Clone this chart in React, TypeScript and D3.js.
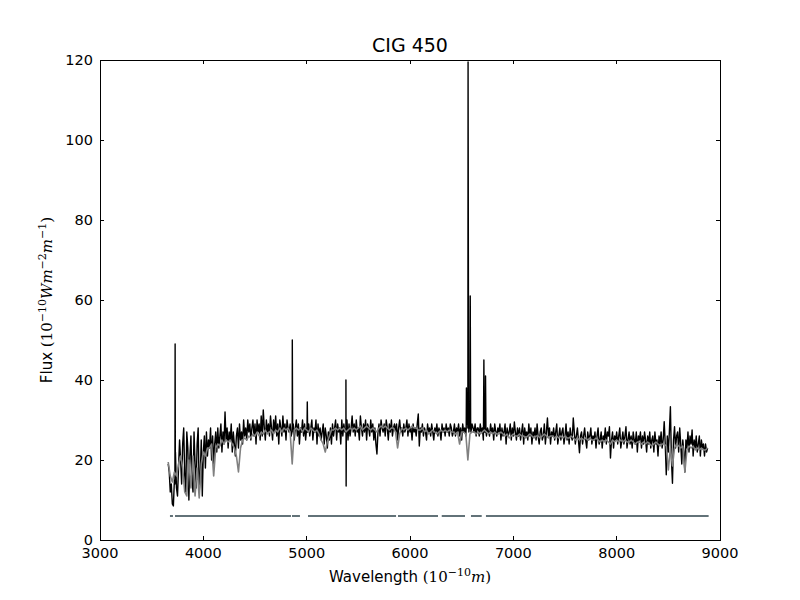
import * as React from 'react'
import * as d3 from 'd3'

const width = 800
const height = 600
const margin = { top: 60, right: 80, bottom: 60, left: 100 }

const xTicks = [3000, 4000, 5000, 6000, 7000, 8000, 9000]
const yTicks = [0, 20, 40, 60, 80, 100, 120]

// observed spectrum, one value every 10 A from 3660 A
const observedStart = 3660
const observedStep = 10
const observedFlux = [
  19, 17, 12, 14, 9, 8.5, 15, 22, 13, 11, 18, 25, 20, 14, 24, 28, 16, 12, 27, 23,
  10, 21, 26, 15, 12, 27, 19, 13, 24, 28, 12, 16, 25, 11, 22, 26, 18, 27, 21, 25,
  23, 28, 20, 26, 19, 24, 27, 22, 28, 23, 26, 29, 22, 27, 24, 32, 25, 28, 23, 27,
  25, 29, 22, 27, 24, 21, 26, 28, 23, 29, 25, 27, 24, 30, 26, 28, 25, 30, 27, 29,
  25, 28, 30, 26, 29, 24, 30, 27, 29, 25, 31, 26, 32.5, 28, 25, 30, 27, 29, 26, 31,
  28, 25, 30, 27, 31, 26, 29, 24, 30, 28, 26, 31, 27, 29, 25, 30, 28, 27, 29, 26,
  27, 29, 25, 28, 30, 26, 29, 24, 28, 27, 30, 26, 29, 25, 28, 27, 29, 26, 28, 30,
  25, 28, 27, 30, 24, 29, 26, 28, 25, 27, 29, 24, 28, 26, 23, 27, 25, 28, 24, 29,
  26, 28, 30, 25, 29, 27, 28, 24, 30, 26, 29, 27, 28, 30, 25, 29, 26, 28, 31, 27,
  29, 26, 30, 27, 28, 25, 31, 28, 26, 29, 27, 30, 25, 29, 28, 26, 30, 27, 29, 25,
  28, 24, 21.5, 27, 29, 26, 30, 28, 27, 29, 26, 30, 28, 25, 29, 27, 30, 26, 28, 29,
  27, 29, 25, 28, 30, 27, 28, 26, 29, 27, 28, 30, 26, 29, 27, 28, 25, 29, 27, 28,
  26, 29, 31.5, 23.5, 28, 27, 29, 26, 28, 27, 25, 29, 27, 28, 26, 29, 27, 25, 28, 27,
  29, 26, 28, 27, 25, 29, 27, 28, 26, 29, 27, 28, 26, 29, 28, 26, 27, 29, 26, 28,
  27, 29, 26, 28, 25, 29, 27, 28, 26, 29, 28, 27, 28, 27, 29, 28, 27, 29, 26, 28,
  28, 26, 29, 27, 28, 25, 27, 29, 26, 28, 27, 26, 29, 27, 28, 25, 29, 27, 26, 28,
  27, 29, 25, 28, 26, 27, 29, 24, 28, 26, 27, 29, 25, 28, 26, 29.5, 27, 25, 28, 26,
  28, 25, 27, 29, 24, 28, 26, 27, 25, 29, 26, 28, 24, 27, 26, 28, 25, 29, 26, 24,
  27, 28, 25, 26, 29, 24, 27, 30.5, 26, 28, 24, 27, 26, 28, 25, 27, 29, 24, 26, 28,
  25, 27, 28, 24, 26, 29, 25, 27, 24, 28, 26, 25, 30.5, 27, 24, 26, 28, 25, 21.8, 26,
  27, 24, 26, 28, 25, 23, 27, 25, 26, 28, 24, 26, 25, 27, 23, 26, 28, 24, 25, 27,
  23, 26, 25, 28, 24, 27, 26, 28.3, 20.5, 25, 27, 23, 26, 25, 27, 24, 26, 28, 23, 25,
  27, 24, 26, 28.3, 23, 25, 27, 24, 26, 23, 27, 25, 24, 27, 22, 26, 25, 27, 23, 26,
  24, 27, 25, 22, 26, 24, 27, 23, 25, 26, 22, 27, 24, 25, 21, 26, 24, 27, 23, 25,
  29.6, 24, 16.3, 26, 22, 27, 33.3, 20, 14.2, 25, 28.3, 23, 26, 27, 22, 28, 24, 19, 25, 22,
  17, 25, 23, 27, 22, 26, 24, 27.5, 21, 25, 23, 26, 22, 24, 26, 21, 25, 23, 24, 21,
  24, 22, 23,
]

// model (fitted) spectrum, one value every 20 A from 3660 A
const modelStart = 3660
const modelStep = 20
const modelFlux = [
  19.5, 16, 14.5, 17, 16, 19, 21, 18, 12, 11,
  20, 13, 21, 11, 18, 10.5, 19, 22, 21, 23,
  23, 24, 16, 23, 24, 23.5, 25, 24, 25, 24.5,
  25, 24, 23, 21, 17, 23, 25, 25.5, 25, 26,
  25.5, 26.5, 26, 27, 26, 27, 26.5, 27.5, 26.5, 27,
  27.5, 26.5, 27.5, 27, 28, 27, 28, 27.5, 28, 27,
  19, 27.5, 28, 27.5, 28, 27, 28, 27.5, 27, 28,
  27.5, 27, 27.5, 26.5, 25, 24, 22, 24.5, 26, 27.5,
  27.5, 28, 27.5, 28, 27.5, 28, 27, 27.5, 28, 27.5,
  28, 27.5, 28, 28.5, 27.5, 28, 28.5, 28, 27.5, 28,
  27.5, 27, 28, 28.5, 28, 28.5, 28, 27.5, 28, 28,
  27, 23, 26.5, 28, 27.5, 28, 27.5, 28, 28.5, 28,
  28, 27.5, 27.5, 28, 27, 27.5, 26.5, 27, 27.5, 27,
  26.5, 27, 27.5, 27, 27.5, 27, 27.5, 27, 27, 26.5,
  27, 24, 27, 27, 26.5, 20, 26.5, 27, 27, 26.5,
  27, 26.5, 27, 27.5, 27, 26.5, 27, 26.5, 27, 26.5,
  26.5, 27, 26.5, 26, 26.5, 25.5, 26, 26.5, 26, 26,
  26.5, 26, 26, 25.5, 26, 26.5, 26, 25.5, 26, 26,
  25.5, 26, 26.5, 26, 25.5, 26, 26, 25.5, 26, 25.5,
  26, 25.5, 26, 25.5, 25.5, 26, 25.5, 25, 25.5, 25,
  25.5, 25, 25.5, 25, 25.5, 25, 25, 25.5, 25, 24.5,
  25, 24.5, 25, 24.5, 24, 25, 24.5, 25, 24.5, 25,
  24.5, 25, 24.5, 24.5, 25, 24.5, 24, 24.5, 24.5, 24,
  24.5, 24, 24.5, 24, 23.5, 24, 24.5, 24, 23.5, 24,
  24, 23.5, 17.5, 23, 18.5, 23, 24, 23.5, 23, 23.5,
  17, 22.5, 23.5, 23, 23.5, 22.5, 23, 22.5, 23, 22.5, 22.5, 23,
]

// emission lines and spikes in the observed spectrum, with their foot points
const spikeWavelength = [
  3725, 3727, 3729,
  4858, 4861, 4864,
  5003, 5006, 5009,
  5378, 5380, 5382, 5384,
  6544, 6546, 6549, 6557, 6562, 6567, 6579, 6583, 6587,
  6711, 6715, 6719, 6727, 6731, 6735,
]
const spikeFlux = [
  14, 49, 20,
  27, 50, 28,
  27, 34.5, 28,
  27, 40, 13.5, 27,
  28, 38, 30, 31, 119.5, 33, 30, 61, 28,
  27, 45, 28, 27, 41, 27,
]

// good-pixel mask drawn at flux 6
const maskStart = [3677, 3726, 4858, 5013, 5884, 6307, 6590, 6735]
const maskEnd = [3706, 4848, 4935, 5865, 6271, 6532, 6694, 8890]
const maskLevel = 6

const App = () => {
  const xScale = d3
    .scaleLinear()
    .domain([3000, 9000])
    .range([margin.left, width - margin.right])
  const yScale = d3
    .scaleLinear()
    .domain([0, 120])
    .range([height - margin.bottom, margin.top])

  const observed = observedFlux
    .map((f, i) => [observedStart + i * observedStep, f])
    .concat(spikeWavelength.map((w, i) => [w, spikeFlux[i]]))
    .sort((a, b) => a[0] - b[0])
  const model = modelFlux.map((f, i) => [modelStart + i * modelStep, f])

  const line = d3
    .line<number[]>()
    .x(d => xScale(d[0]))
    .y(d => yScale(d[1]))

  const x0 = margin.left
  const x1 = width - margin.right
  const y0 = height - margin.bottom
  const y1 = margin.top
  const sans = 'DejaVu Sans, sans-serif'
  const serif = 'DejaVu Serif, serif'

  return (
    <svg width={width} height={height} style={{ position: 'absolute', left: 0, top: 0, background: '#fff' }}>
      <rect x={0} y={0} width={width} height={height} fill="#fff" />
      {maskStart.map((s, i) => (
        <line
          key={'m' + i}
          x1={xScale(s)}
          x2={xScale(maskEnd[i])}
          y1={yScale(maskLevel)}
          y2={yScale(maskLevel)}
          stroke="#627278"
          strokeWidth={2}
        />
      ))}
      <path d={line(observed) || ''} fill="none" stroke="#000" strokeWidth={1.4} strokeLinejoin="round" />
      <path d={line(model) || ''} fill="none" stroke="#808080" strokeWidth={1.6} strokeLinejoin="round" />

      <rect x={x0} y={y1} width={x1 - x0} height={y0 - y1} fill="none" stroke="#000" strokeWidth={1} shapeRendering="crispEdges" />
      {xTicks.map(t => (
        <g key={'x' + t} shapeRendering="crispEdges">
          <line x1={xScale(t)} x2={xScale(t)} y1={y0} y2={y0 - 4} stroke="#000" />
          <line x1={xScale(t)} x2={xScale(t)} y1={y1} y2={y1 + 4} stroke="#000" />
          <text x={xScale(t)} y={557.5} textAnchor="middle" fontFamily={sans} fontSize={14.5}>
            {t}
          </text>
        </g>
      ))}
      {yTicks.map(t => (
        <g key={'y' + t} shapeRendering="crispEdges">
          <line x1={x0} x2={x0 + 4} y1={yScale(t)} y2={yScale(t)} stroke="#000" />
          <line x1={x1} x2={x1 - 4} y1={yScale(t)} y2={yScale(t)} stroke="#000" />
          <text x={93} y={yScale(t)} dy="0.36em" textAnchor="end" fontFamily={sans} fontSize={14.5}>
            {t}
          </text>
        </g>
      ))}

      <text x={410} y={52} textAnchor="middle" fontFamily={sans} fontSize={19}>
        CIG 450
      </text>

      <text x={410} y={582} textAnchor="middle" fontFamily={sans} fontSize={15}>
        Wavelength{' '}
        <tspan fontFamily={serif} fontSize={15}>(10</tspan>
        <tspan fontFamily={serif} fontSize={11} dy={-6}>−10</tspan>
        <tspan fontFamily={serif} fontSize={15} fontStyle="italic" dy={6}>m</tspan>
        <tspan fontFamily={serif} fontSize={15}>)</tspan>
      </text>

      <text transform="translate(52,300) rotate(-90)" textAnchor="middle" fontFamily={sans} fontSize={15}>
        Flux{' '}
        <tspan fontFamily={serif} fontSize={15}>(10</tspan>
        <tspan fontFamily={serif} fontSize={11} dy={-6}>−10</tspan>
        <tspan fontFamily={serif} fontSize={15} fontStyle="italic" dy={6}>Wm</tspan>
        <tspan fontFamily={serif} fontSize={11} dy={-6}>−2</tspan>
        <tspan fontFamily={serif} fontSize={15} fontStyle="italic" dy={6}>m</tspan>
        <tspan fontFamily={serif} fontSize={11} dy={-6}>−1</tspan>
        <tspan fontFamily={serif} fontSize={15} dy={6}>)</tspan>
      </text>
    </svg>
  )
}

export default App
